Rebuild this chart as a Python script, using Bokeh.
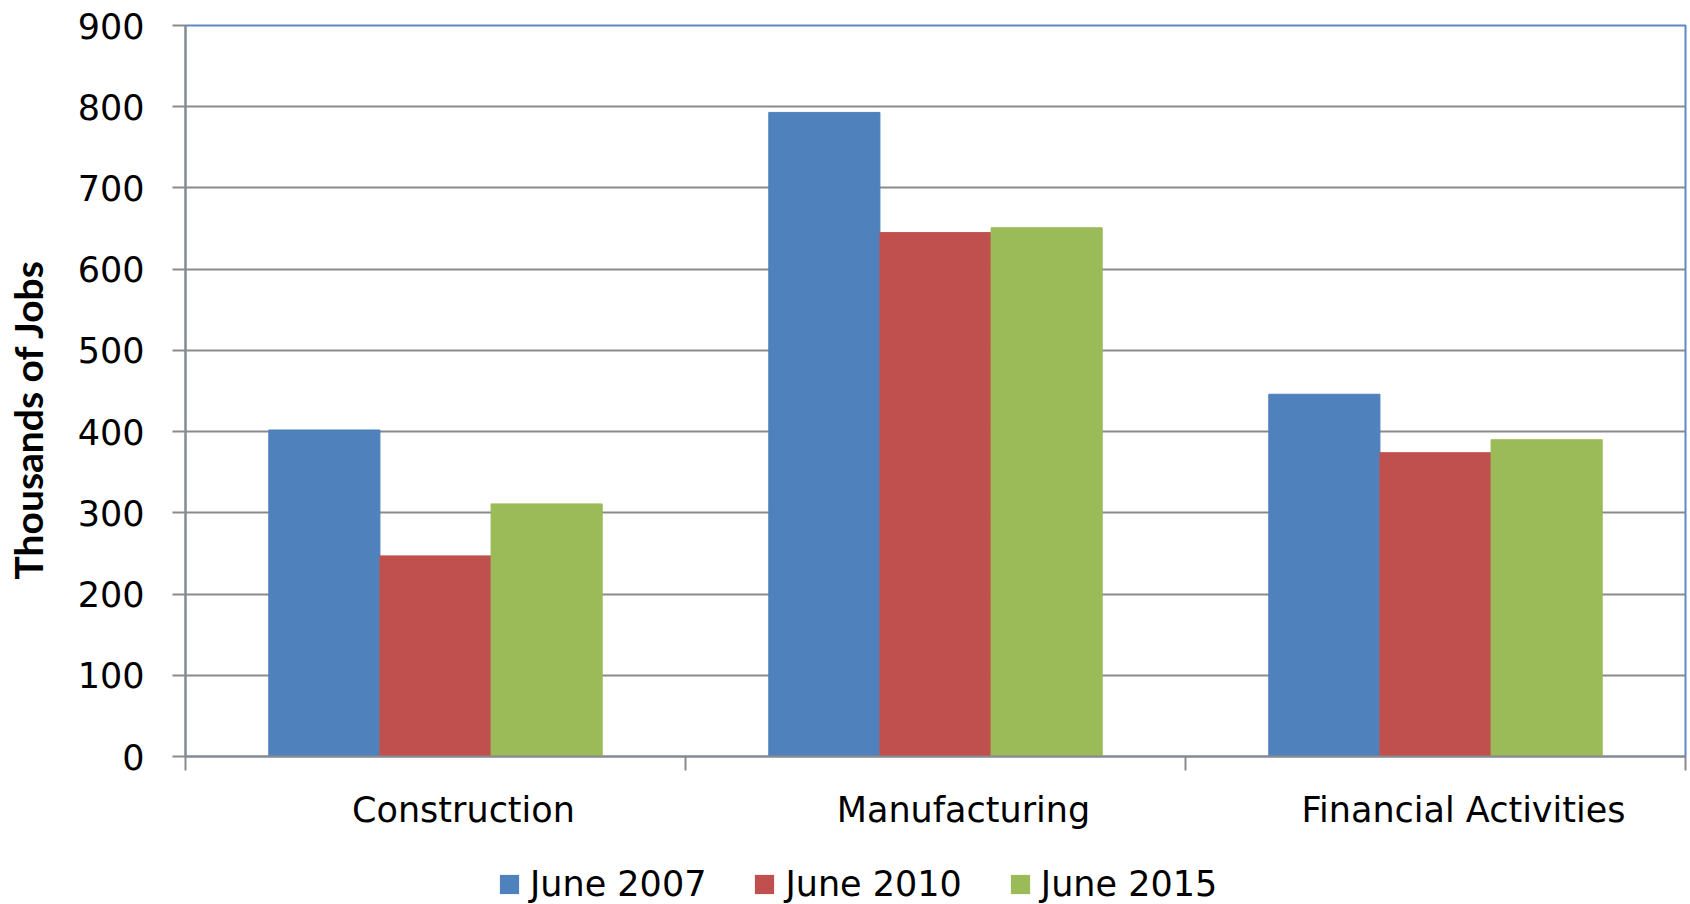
from bokeh.plotting import figure
from bokeh.layouts import column
from bokeh.models import Range1d, FixedTicker, ColumnDataSource, Legend, LegendItem, LinearAxis
from bokeh.transform import dodge
from bokeh.embed import file_html
from bokeh.resources import INLINE

categories = ["Construction", "Manufacturing", "Financial Activities"]
series_names = ["June 2007", "June 2010", "June 2015"]
june_2007 = [402, 793, 446]
june_2010 = [247, 645, 374]
june_2015 = [311, 651, 390]
y_ticks = [0, 100, 200, 300, 400, 500, 600, 700, 800, 900]
y_title = "Thousands of Jobs"
colors = ["#4F81BD", "#C0504D", "#9BBB59"]

n = len(categories)
keys = ["s0", "s1", "s2"]
pos = [i + 0.5 for i in range(n)]
source = ColumnDataSource(dict(pos=pos, cat=categories, s0=june_2007, s1=june_2010, s2=june_2015))

W = 1688
H_MAIN = 846
H_LEG = 58

label_shift = 0.056  # category labels sit slightly right of group centres
p = figure(width=W, height=H_MAIN, x_range=Range1d(0, n), y_range=Range1d(0, 900),
           output_backend="svg", toolbar_location=None,
           min_border_left=185, min_border_right=3, min_border_top=25, min_border_bottom=90)
p.extra_x_ranges = {"lab": Range1d(-label_shift, n - label_shift)}
p.background_fill_color = "white"
p.border_fill_color = "white"
p.outline_line_color = "#5E88C4"
p.outline_line_width = 2

bar_w = 0.2223
for j, key in enumerate(keys):
    p.vbar(x=dodge("pos", (j - 1) * bar_w, range=p.x_range), top=key, width=bar_w, bottom=0,
           source=source, fill_color=colors[j], line_color=colors[j], line_width=1)

grid_gray = "#8A8A8A"
p.xgrid.visible = False
p.ygrid.ticker = FixedTicker(ticks=y_ticks)
p.ygrid.grid_line_color = grid_gray
p.ygrid.grid_line_width = 2

# y axis
p.yaxis.ticker = FixedTicker(ticks=y_ticks)
p.yaxis.minor_tick_line_color = None
p.yaxis.major_tick_in = 0
p.yaxis.major_tick_out = 13
p.yaxis.major_tick_line_color = grid_gray
p.yaxis.major_tick_line_width = 2
p.yaxis.axis_line_color = grid_gray
p.yaxis.axis_line_width = 2
p.yaxis.major_label_text_font = "DejaVu Sans"
p.yaxis.major_label_text_font_size = "35px"
p.yaxis.major_label_text_color = "black"
p.yaxis.major_label_standoff = 28
# trailing no-break spaces push the (centred) title slightly below the frame centre, as in the original
p.yaxis.axis_label = y_title + "\u00a0" * 6
p.yaxis.axis_label_text_font = "Lato"
p.yaxis.axis_label_text_font_style = "bold"
p.yaxis.axis_label_text_font_size = "39px"
p.yaxis.axis_label_text_color = "black"
p.yaxis.axis_label_standoff = 24

# x axis (category boundary ticks)
p.xaxis.ticker = FixedTicker(ticks=list(range(n + 1)))
p.xaxis.minor_tick_line_color = None
p.xaxis.major_tick_in = 0
p.xaxis.major_tick_out = 14
p.xaxis.major_tick_line_color = grid_gray
p.xaxis.major_tick_line_width = 2
p.xaxis.axis_line_color = grid_gray
p.xaxis.axis_line_width = 2
p.xaxis.major_label_text_font_size = "1px"
p.xaxis.major_label_text_alpha = 0
p.xaxis.major_label_standoff = 0

# category labels
lab_axis = LinearAxis(x_range_name="lab", ticker=FixedTicker(ticks=pos),
                      major_label_overrides={k: v for k, v in zip(pos, categories)})
lab_axis.axis_line_color = None
lab_axis.major_tick_line_color = None
lab_axis.minor_tick_line_color = None
lab_axis.major_tick_in = 0
lab_axis.major_tick_out = 0
lab_axis.major_label_standoff = 19
lab_axis.major_label_text_font = "DejaVu Sans"
lab_axis.major_label_text_font_size = "35px"
lab_axis.major_label_text_color = "black"
p.add_layout(lab_axis, "below")

# legend strip (its frame is aligned with the chart frame by the column layout)
pl = figure(width=W, height=H_LEG, x_range=Range1d(10, 11), y_range=Range1d(-2000, -1000),
            output_backend="svg", toolbar_location=None, x_axis_type=None, y_axis_type=None,
            min_border_left=185, min_border_right=3, min_border_top=0, min_border_bottom=0)
pl.grid.visible = False
pl.outline_line_color = None
pl.background_fill_color = "white"
pl.border_fill_color = "white"
items = []
for j, key in enumerate(keys):
    r = pl.vbar(x="pos", top=key, width=bar_w, source=source, fill_color=colors[j],
                line_color=colors[j], line_alpha=0)
    r.visible = False  # proxy renderers: only their legend swatches are shown
    items.append(LegendItem(label=series_names[j], renderers=[r]))
legend = Legend(items=items, orientation="horizontal", location=(312, 0),
                glyph_width=24, glyph_height=24, label_standoff=9, spacing=46,
                padding=0, margin=0, border_line_alpha=0, background_fill_alpha=0,
                inactive_fill_alpha=0,
                label_text_font="DejaVu Sans", label_text_font_size="35px", label_text_color="black")
pl.add_layout(legend, "center")

layout = column(p, pl, spacing=0)
open("out.html", "w").write(file_html(layout, INLINE))
